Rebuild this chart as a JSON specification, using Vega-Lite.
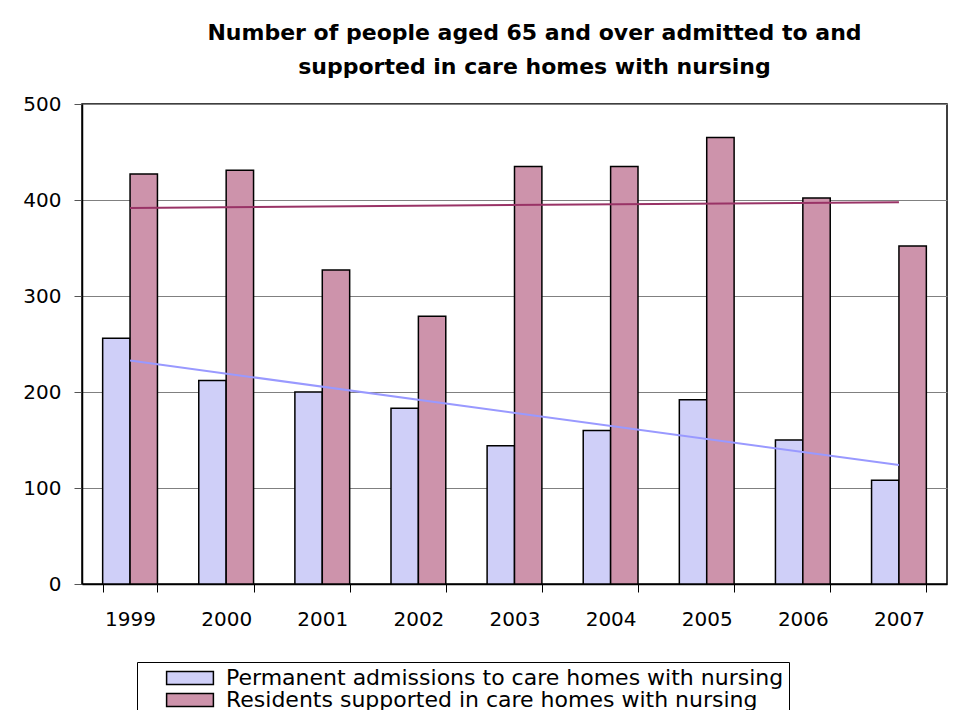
{
  "$schema": "https://vega.github.io/schema/vega-lite/v6.json",
  "autosize": {"type": "none"},
  "padding": {"left": 82, "top": 104, "right": 12, "bottom": 126},
  "width": 865,
  "height": 480,
  "background": "white",
  "title": {
    "text": ["Number of people aged 65 and over admitted to and", "supported in care homes with nursing"],
    "font": "DejaVu Sans",
    "fontSize": 22,
    "fontWeight": "bold",
    "color": "black",
    "lineHeight": 34,
    "anchor": "middle",
    "dx": 20,
    "offset": 15
  },
  "data": {
    "values": [
      {"year": 1999, "series": "Permanent admissions to care homes with nursing", "value": 256},
      {"year": 2000, "series": "Permanent admissions to care homes with nursing", "value": 212},
      {"year": 2001, "series": "Permanent admissions to care homes with nursing", "value": 200},
      {"year": 2002, "series": "Permanent admissions to care homes with nursing", "value": 183},
      {"year": 2003, "series": "Permanent admissions to care homes with nursing", "value": 144},
      {"year": 2004, "series": "Permanent admissions to care homes with nursing", "value": 160},
      {"year": 2005, "series": "Permanent admissions to care homes with nursing", "value": 192},
      {"year": 2006, "series": "Permanent admissions to care homes with nursing", "value": 150},
      {"year": 2007, "series": "Permanent admissions to care homes with nursing", "value": 108},
      {"year": 1999, "series": "Residents supported in care homes with nursing", "value": 427},
      {"year": 2000, "series": "Residents supported in care homes with nursing", "value": 431},
      {"year": 2001, "series": "Residents supported in care homes with nursing", "value": 327},
      {"year": 2002, "series": "Residents supported in care homes with nursing", "value": 279},
      {"year": 2003, "series": "Residents supported in care homes with nursing", "value": 435},
      {"year": 2004, "series": "Residents supported in care homes with nursing", "value": 435},
      {"year": 2005, "series": "Residents supported in care homes with nursing", "value": 465},
      {"year": 2006, "series": "Residents supported in care homes with nursing", "value": 402},
      {"year": 2007, "series": "Residents supported in care homes with nursing", "value": 352}
    ]
  },
  "encoding": {
    "x": {
      "field": "year",
      "type": "ordinal",
      "scale": {"paddingInner": 0.43, "paddingOuter": 0.215},
      "axis": {
        "title": null,
        "labelAngle": 0,
        "labelFont": "DejaVu Sans",
        "labelFontSize": 20,
        "labelColor": "black",
        "labelPadding": 17,
        "tickBand": "extent",
        "tickSize": 8,
        "tickColor": "black",
        "tickWidth": 1,
        "domainColor": "black",
        "domainWidth": 1.5,
        "grid": false
      }
    },
    "y": {
      "field": "value",
      "type": "quantitative",
      "scale": {"domain": [0, 500], "nice": false},
      "axis": {
        "title": null,
        "values": [0, 100, 200, 300, 400, 500],
        "labelFont": "DejaVu Sans",
        "labelFontSize": 20,
        "labelColor": "black",
        "labelPadding": 13,
        "tickSize": 8,
        "tickColor": "#555555",
        "domainColor": "black",
        "domainWidth": 1.5,
        "grid": true,
        "gridColor": "#808080",
        "gridWidth": 1
      }
    }
  },
  "layer": [
    {
      "mark": {"type": "bar", "stroke": "black", "strokeWidth": 1.5},
      "encoding": {
        "xOffset": {"field": "series", "type": "nominal", "scale": {"paddingInner": 0, "paddingOuter": 0}},
        "color": {
          "field": "series",
          "type": "nominal",
          "scale": {"range": ["#cfcff8", "#cd93ab"]},
          "legend": {
            "title": null,
            "orient": "none",
            "legendX": 55,
            "legendY": 558,
            "direction": "vertical",
            "symbolType": "M-3.6,-1H3.6V1H-3.6Z",
            "symbolSize": 169,
            "symbolOffset": 37,
            "symbolStrokeColor": "black",
            "symbolStrokeWidth": 1.5,
            "symbolOpacity": 1,
            "labelFont": "DejaVu Sans",
            "labelFontSize": 22,
            "labelColor": "black",
            "labelLimit": 800,
            "labelOffset": 25,
            "rowPadding": -5,
            "padding": 5,
            "strokeColor": "black",
            "fillColor": "white"
          }
        }
      }
    },
    {
      "transform": [
        {"regression": "value", "on": "year", "groupby": ["series"], "method": "linear", "extent": [1999, 2007]}
      ],
      "mark": {"type": "line", "strokeWidth": 2},
      "encoding": {
        "stroke": {
          "field": "series",
          "type": "nominal",
          "scale": {"range": ["#9999ff", "#993366"]},
          "legend": null
        }
      }
    }
  ],
  "config": {
    "view": {"stroke": "black", "strokeWidth": 1.5}
  }
}
